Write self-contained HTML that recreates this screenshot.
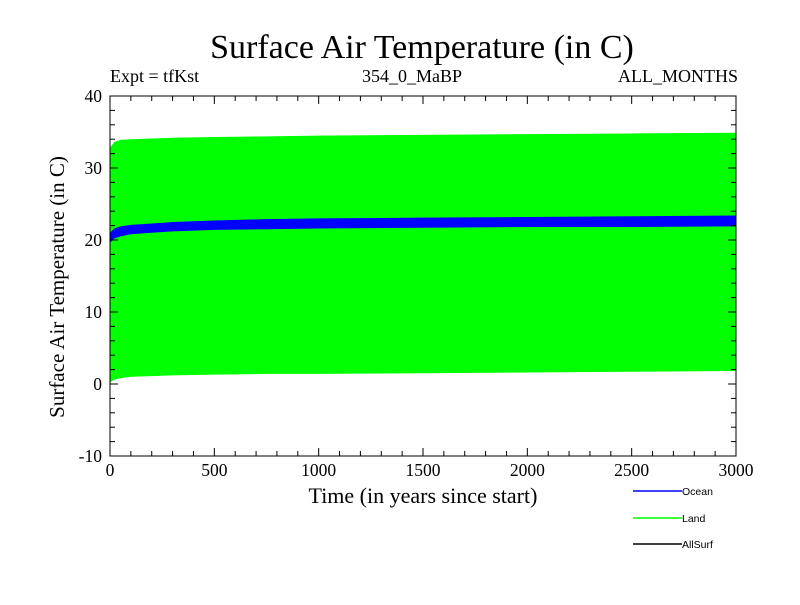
<!DOCTYPE html>
<html><head><meta charset="utf-8"><style>
body{margin:0;background:#fff;}
svg text{font-family:"Liberation Serif",serif;fill:#000;}
</style></head><body>
<svg id="chart" width="800" height="600" xmlns="http://www.w3.org/2000/svg">
<text x="422" y="58" font-size="34" text-anchor="middle">Surface Air Temperature (in C)</text>
<text x="110" y="82" font-size="18">Expt = tfKst</text>
<text x="412" y="82" font-size="18" text-anchor="middle">354_0_MaBP</text>
<text x="738" y="82" font-size="18" text-anchor="end">ALL_MONTHS</text>
<text transform="translate(64,287) rotate(-90)" font-size="21" text-anchor="middle">Surface Air Temperature (in C)</text>
<text x="423" y="503" font-size="22" text-anchor="middle">Time (in years since start)</text>
<g id="marks"></g>
<g id="axes"></g>
<g>
<line x1="633" y1="491" x2="682" y2="491" stroke="#0000ff" stroke-width="1.5"/>
<text x="682" y="495" font-size="10.5" style="font-family:'Liberation Sans',sans-serif">Ocean</text>
<line x1="633" y1="518" x2="682" y2="518" stroke="#00ff00" stroke-width="1.5"/>
<text x="682" y="522" font-size="10.5" style="font-family:'Liberation Sans',sans-serif">Land</text>
<line x1="633" y1="544" x2="682" y2="544" stroke="#000" stroke-width="1.5"/>
<text x="682" y="548" font-size="10.5" style="font-family:'Liberation Sans',sans-serif">AllSurf</text>
</g>
</svg>
<script>
const years=[0,20,50,100,200,300,500,750,1000,1500,2000,2500,3000];
const landMax=[32.8,33.6,33.9,34.0,34.1,34.2,34.3,34.4,34.5,34.6,34.7,34.8,34.9];
const landMin=[0.2,0.6,0.8,1.0,1.1,1.2,1.3,1.4,1.4,1.5,1.6,1.7,1.8];
const oceanMax=[21.0,21.6,21.9,22.1,22.3,22.5,22.7,22.9,23.0,23.1,23.2,23.3,23.4];
const oceanMin=[19.6,20.2,20.5,20.8,21.0,21.2,21.4,21.5,21.6,21.7,21.8,21.8,21.9];
const xTicks=[0,500,1000,1500,2000,2500,3000];
const yTicks=[-10,0,10,20,30,40];
const L=110,R=736,T=96,B=456;
const xs=v=>L+(v-0)/(3000)*(R-L);
const ys=v=>B-(v+10)/50*(B-T);
const NS="http://www.w3.org/2000/svg";
const marks=document.getElementById('marks'),axes=document.getElementById('axes');
function band(up,lo,color,name){
  let pts=years.map((y,i)=>xs(y)+','+ys(up[i]));
  for(let i=years.length-1;i>=0;i--)pts.push(xs(years[i])+','+ys(lo[i]));
  const p=document.createElementNS(NS,'polygon');
  p.setAttribute('points',pts.join(' '));p.setAttribute('fill',color);
  
  
  marks.appendChild(p);
}
band(landMax,landMin,'#00ff00','land-band');
band(oceanMax,oceanMin,'#0000ff','ocean-band');
function ln(x1,y1,x2,y2){const l=document.createElementNS(NS,'line');l.setAttribute('x1',x1);l.setAttribute('y1',y1);l.setAttribute('x2',x2);l.setAttribute('y2',y2);l.setAttribute('stroke','#000');l.setAttribute('stroke-width','1');axes.appendChild(l);return l;}
const fr=document.createElementNS(NS,'rect');
fr.setAttribute('x',L);fr.setAttribute('y',T);fr.setAttribute('width',R-L);fr.setAttribute('height',B-T);fr.setAttribute('fill','none');fr.setAttribute('stroke','#000');


axes.appendChild(fr);
for(let v=0;v<=3000;v+=100){const x=xs(v),len=v%500===0?8:5;ln(x,B,x,B-len);ln(x,T,x,T+len);}
for(let v=-10;v<=40;v+=2){const y=ys(v),len=v%10===0?8:5;ln(L,y,L+len,y);ln(R,y,R-len,y);}
xTicks.forEach(v=>{const t=document.createElementNS(NS,'text');t.setAttribute('x',xs(v));t.setAttribute('y',B+20);t.setAttribute('font-size','17.5');t.setAttribute('text-anchor','middle');t.textContent=v;


axes.appendChild(t);});
yTicks.forEach(v=>{const t=document.createElementNS(NS,'text');t.setAttribute('x',L-8);t.setAttribute('y',ys(v)+6);t.setAttribute('font-size','17.5');t.setAttribute('text-anchor','end');t.textContent=v;


axes.appendChild(t);});
</script>
</body></html>
